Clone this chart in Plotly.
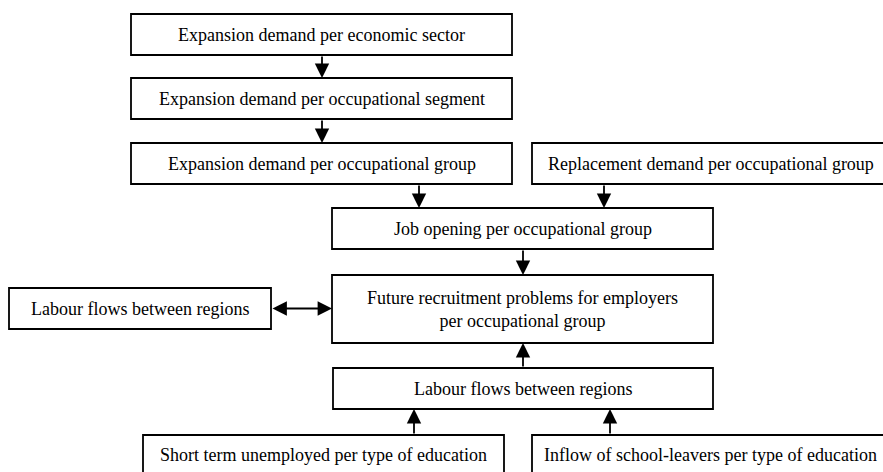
import plotly.graph_objects as go

# Box labels
labels = [
    "Expansion demand per economic sector",
    "Expansion demand per occupational segment",
    "Expansion demand per occupational group",
    "Replacement demand per occupational group",
    "Job opening per occupational group",
    "Future recruitment problems for employers<br>per occupational group",
    "Labour flows between regions",
    "Labour flows between regions",
    "Short term unemployed per type of education",
    "Inflow of school-leavers per type of education",
]

# Box geometry in page-pixel space (x0, x1, y0, y1)
box_x0 = [131, 131, 131, 532, 332, 332, 9, 333, 143, 532]
box_x1 = [512, 512, 512, 895, 713, 713, 271, 713, 504, 895]
box_y0 = [14, 78, 143, 143, 208, 275, 288, 368, 435, 435]
box_y1 = [55, 119, 184, 184, 249, 343, 329, 409, 480, 480]
text_y = [34.5, 98.5, 163.5, 163.5, 228.5, 309, 308.5, 388.5, 455, 455]

# Arrows: (x_tail, y_tail, x_head, y_head)
arrow_tail_x = [322, 322, 419, 604, 523, 523, 414, 610]
arrow_tail_y = [55, 119, 184, 184, 249, 368, 435, 435]
arrow_head_x = [322, 322, 419, 604, 523, 523, 414, 610]
arrow_head_y = [78, 143, 208, 208, 275, 343, 409, 409]

W, H = 883, 472
fig = go.Figure()
fig.add_trace(go.Scatter(x=[0, W], y=[0, H], mode="markers", marker=dict(opacity=0),
                         hoverinfo="skip", showlegend=False))

for i, lab in enumerate(labels):
    fig.add_shape(type="rect", x0=box_x0[i], x1=box_x1[i], y0=box_y0[i], y1=box_y1[i],
                  line=dict(color="black", width=1.8), fillcolor="white", layer="below")
    cx = (box_x0[i] + box_x1[i]) / 2
    if box_x1[i] > W:
        cx = (box_x0[i] + W) / 2 + 3
    fig.add_annotation(x=cx, y=text_y[i], text=lab, showarrow=False,
                       font=dict(family="Liberation Serif", size=18, color="black"),
                       xanchor="center", yanchor="middle")

for i in range(len(arrow_tail_x)):
    fig.add_annotation(x=arrow_head_x[i], y=arrow_head_y[i], ax=arrow_tail_x[i], ay=arrow_tail_y[i],
                       xref="x", yref="y", axref="x", ayref="y", text="", showarrow=True,
                       arrowhead=2, arrowsize=1.6, arrowwidth=1.8, arrowcolor="black")

# double arrow
fig.add_annotation(x=332, y=308.5, ax=271, ay=308.5, xref="x", yref="y", axref="x", ayref="y",
                   text="", showarrow=True, arrowhead=2, startarrowhead=2, arrowside="end+start",
                   arrowsize=1.6, startarrowsize=1.6, arrowwidth=1.8, arrowcolor="black")

fig.update_xaxes(range=[0, W], visible=False, fixedrange=True)
fig.update_yaxes(range=[H, 0], visible=False, fixedrange=True)
fig.update_layout(width=W, height=H, margin=dict(l=0, r=0, t=0, b=0),
                  plot_bgcolor="white", paper_bgcolor="white")
fig.write_html("out.html", config={"displayModeBar": False},
               post_script="document.body.style.margin='0';document.body.style.overflow='hidden';")
